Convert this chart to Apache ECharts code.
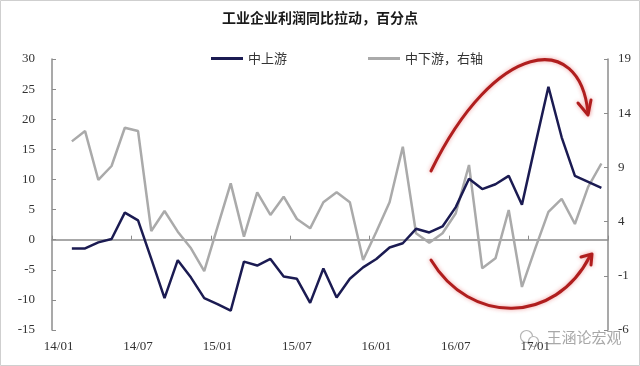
<!DOCTYPE html>
<html>
<head>
<meta charset="utf-8">
<script src="https://cdn.jsdelivr.net/npm/echarts@6/dist/echarts.min.js"></script>
<style>html,body{margin:0;padding:0;background:#fff;}#c{width:640px;height:366px;}</style>
</head>
<body>
<div id="c"></div>
<script>
// Categories: monthly 14/01 .. 17/06 (14/01 has no data)
var years = ['14','15','16','17'];
var categories = [];
for (var y = 0; y < years.length; y++) {
  for (var m = 1; m <= 12; m++) {
    if (years[y] === '17' && m > 6) break;
    categories.push(years[y] + '/' + (m < 10 ? '0' + m : m));
  }
}
// 中上游 (left axis)
var upstream = [null,
  -1.45, -1.45, -0.45, 0.1, 4.5, 3.2, -3.2, -9.7, -3.4, -6.3, -9.7,
  -10.7, -11.8, -3.65, -4.3, -3.2, -6.1, -6.5, -10.5, -4.8, -9.6, -6.5,
  -4.6, -3.2, -1.3, -0.6, 1.8, 1.2, 2.2, 5.4, 10.1, 8.4, 9.2,
  10.6, 5.8, 15.7, 25.4, 17, 10.6, 9.6, 8.6];
// 中下游，右轴 (right axis)
var downstream = [null,
  11.4, 12.35, 7.84, 9.13, 12.66, 12.35, 3.13, 4.98, 3.07, 1.54, -0.56,
  3.5, 7.53, 2.61, 6.7, 4.61, 6.3, 4.24, 3.38, 5.78, 6.7, 5.78,
  0.46, 3.07, 5.78, 10.9, 2.92, 2.05, 2.92, 4.77, 9.22, -0.31, 0.61,
  5.07, -2.03, 1.5, 4.9, 6.1, 3.78, 7.2, 9.36];
var leftTicks = {min: -15, max: 30, interval: 5};
var rightTicks = {min: -6, max: 19, interval: 5};

var chart = echarts.init(document.getElementById('c'), null, {renderer: 'canvas'});
var serif = 'Liberation Serif';
var cjk = 'Noto Sans CJK SC';
var axisGray = '#8c8c8c';
var red = '#b01e1e';
var redStyle = {stroke: red, lineWidth: 3, fill: null, shadowColor: 'rgba(220,40,40,0.45)', shadowBlur: 4, lineCap: 'round', lineJoin: 'round'};

chart.setOption({
  animation: false,
  backgroundColor: '#fff',
  title: {
    text: '工业企业利润同比拉动，百分点',
    left: 'center', top: 6,
    textStyle: {fontFamily: cjk, fontSize: 14, fontWeight: 'bold', color: '#1a1a1a'}
  },
  legend: {
    top: 47, left: 206,
    icon: 'rect', itemWidth: 32, itemHeight: 3, itemGap: 81,
    textStyle: {fontFamily: cjk, fontSize: 13, color: '#333'},
    data: ['中上游', '中下游，右轴']
  },
  grid: {left: 52, right: 32, top: 59, bottom: 36},
  xAxis: [{
    type: 'category', data: categories, boundaryGap: true, position: 'bottom',
    axisLine: {show: false}, axisTick: {show: false},
    axisLabel: {interval: 5, margin: 10, fontFamily: serif, fontSize: 13, color: '#333'}
  }, {
    type: 'category', data: categories, boundaryGap: true, position: 'top',
    axisLine: {show: true, onZero: true, onZeroAxisIndex: 0, lineStyle: {color: axisGray, width: 1.5}},
    axisTick: {show: true, interval: 5, inside: false, length: 4, lineStyle: {color: axisGray}},
    axisLabel: {show: false}
  }],
  yAxis: [{
    type: 'value', position: 'left', min: leftTicks.min, max: leftTicks.max, interval: leftTicks.interval,
    splitLine: {show: false},
    axisLine: {show: true, onZero: false, lineStyle: {color: axisGray, width: 1.5}},
    axisTick: {show: true, inside: true, length: 4, lineStyle: {color: axisGray}},
    axisLabel: {margin: 17, fontFamily: serif, fontSize: 13, color: '#333'}
  }, {
    type: 'value', position: 'right', min: rightTicks.min, max: rightTicks.max, interval: rightTicks.interval,
    splitLine: {show: false},
    axisLine: {show: true, onZero: false, lineStyle: {color: axisGray, width: 1.5}},
    axisTick: {show: true, inside: true, length: 4, lineStyle: {color: axisGray}},
    axisLabel: {margin: 10, fontFamily: serif, fontSize: 13, color: '#333'}
  }],
  series: [{
    name: '中上游', type: 'line', xAxisIndex: 0, yAxisIndex: 0, data: upstream,
    symbol: 'none', lineStyle: {color: '#1b1b52', width: 2.5}, itemStyle: {color: '#1b1b52'}, z: 3
  }, {
    name: '中下游，右轴', type: 'line', xAxisIndex: 0, yAxisIndex: 1, data: downstream,
    symbol: 'none', lineStyle: {color: '#aaaaaa', width: 2.5}, itemStyle: {color: '#aaaaaa'}, z: 2
  }],
  graphic: [
    {type: 'rect', shape: {x: 0.5, y: 0.5, width: 639, height: 365}, style: {stroke: '#cfcfcf', fill: null, lineWidth: 1}, silent: true},
    {type: 'bezierCurve', shape: {x1: 431, y1: 171, cpx1: 495, cpy1: 40, cpx2: 580, cpy2: 30, x2: 588, y2: 113}, style: redStyle, z: 10},
    {type: 'polyline', shape: {points: [[578, 103], [588, 115], [591, 100]]}, style: redStyle, z: 10},
    {type: 'bezierCurve', shape: {x1: 431, y1: 260, cpx1: 470, cpy1: 325, cpx2: 555, cpy2: 325, x2: 590, y2: 256}, style: redStyle, z: 10},
    {type: 'polyline', shape: {points: [[581, 257], [592, 254], [591, 265]]}, style: redStyle, z: 10},
    {type: 'group', left: 518, top: 328, z: 10, children: [
      {type: 'circle', shape: {cx: 7, cy: 8, r: 6}, style: {stroke: '#b5b5b5', fill: null, lineWidth: 1.2}},
      {type: 'circle', shape: {cx: 14, cy: 13, r: 5}, style: {stroke: '#b5b5b5', fill: '#fff', lineWidth: 1.2}},
      {type: 'text', left: 27, top: 1, style: {text: '王涵论宏观', fontFamily: cjk, fontSize: 15, fill: '#a8a8a8'}}
    ]}
  ]
});
</script>
</body>
</html>
